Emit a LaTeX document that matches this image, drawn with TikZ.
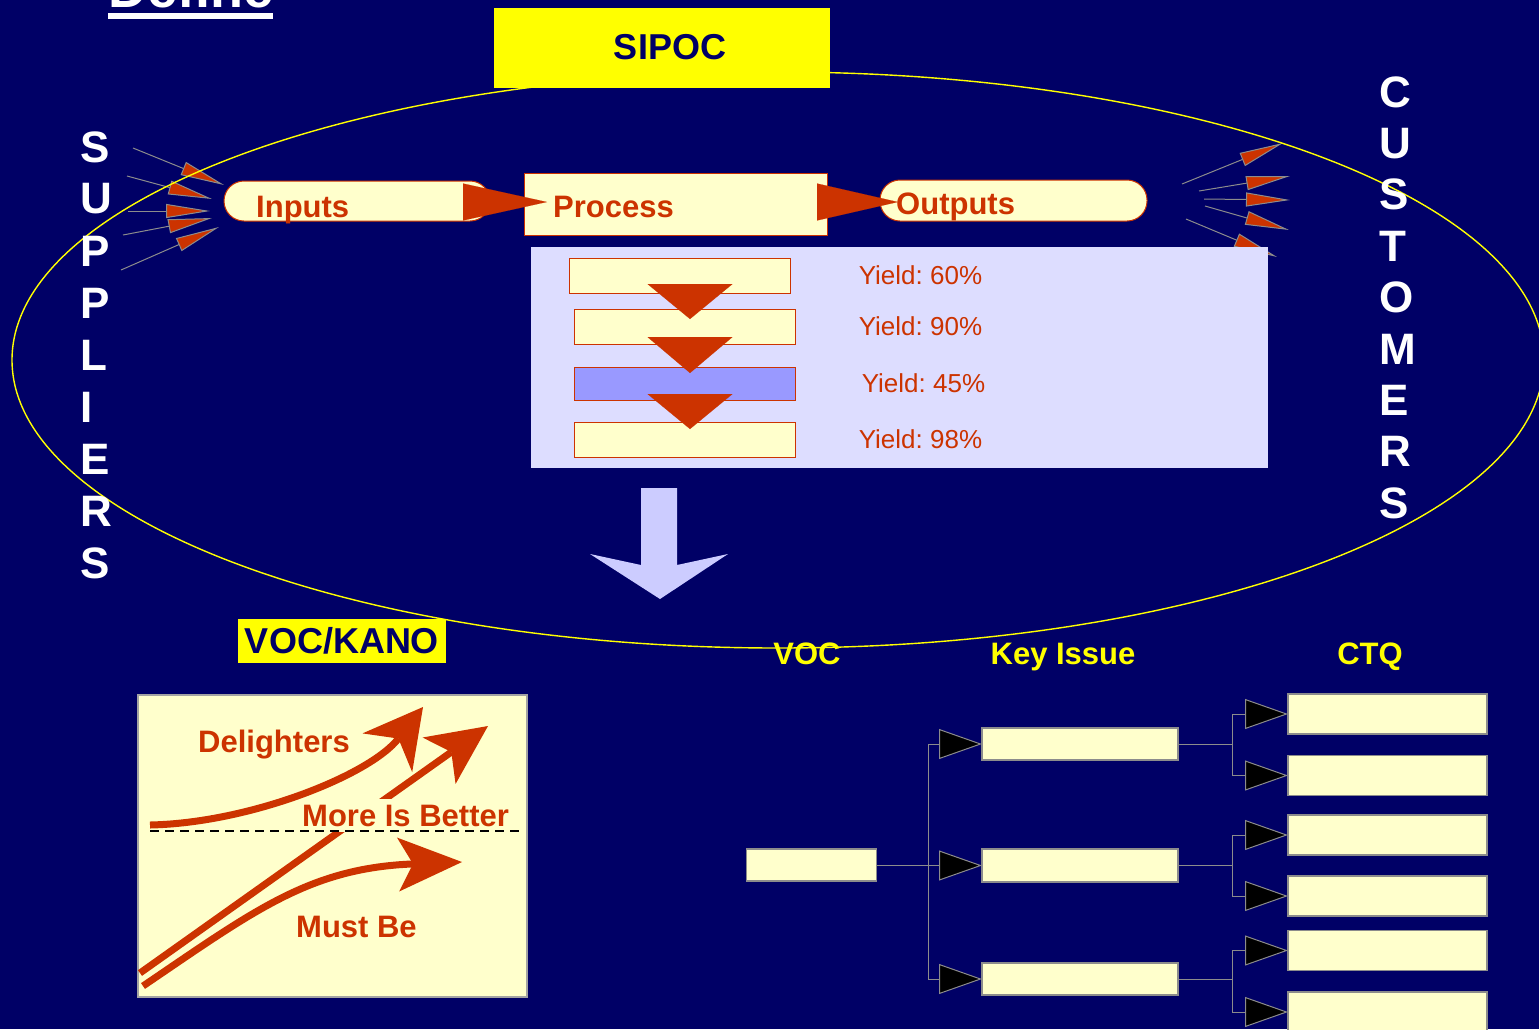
\documentclass[tikz,border=0pt]{standalone}
\usepackage{fontspec}
\setmainfont{Liberation Sans}
\usetikzlibrary{arrows.meta,calc}

\definecolor{navy}{HTML}{000066}
\definecolor{kred}{HTML}{CC3300}
\definecolor{cream}{HTML}{FFFFCC}
\definecolor{lav}{HTML}{DDDDFF}
\definecolor{midblue}{HTML}{9999FF}
\definecolor{paleblue}{HTML}{CCCCFF}
\definecolor{linegray}{HTML}{8C8C8C}
\definecolor{sipocyellow}{HTML}{FFFF00}

\begin{document}
\frenchspacing
\begin{tikzpicture}[x=1pt,y=-1pt,
  lbl/.style={inner sep=0pt, text=kred, font=\bfseries\fontsize{31}{31}\selectfont},
  letter/.style={anchor=west, inner sep=0pt, text=white, font=\bfseries\fontsize{44}{44}\selectfont},
  head/.style={inner sep=0pt, text=sipocyellow, font=\bfseries\fontsize{31}{31}\selectfont, anchor=base},
  yieldlbl/.style={inner sep=0pt, text=kred, font=\fontsize{26}{26}\selectfont},
  pill/.style={draw=kred, fill=cream, line width=1pt, rounded corners=20pt, inner sep=0pt, outer sep=0pt},
  procbox/.style={draw=kred, fill=cream, line width=1pt, inner sep=0pt, outer sep=0pt},
  stepbox/.style={draw=kred, fill=cream, line width=1pt, inner sep=0pt, outer sep=0pt, minimum width=221pt},
  bigtri/.style={kred, line width=0.1pt},
  feeder/.style={linegray, line width=1pt, -{Triangle[length=44pt,width=14pt,fill=kred]}},
  treebox/.style={draw=linegray, fill=cream, line width=1.2pt, inner sep=0pt, outer sep=0pt},
  treelink/.style={linegray, line width=1pt, -{Triangle[length=43pt,width=30pt,fill=black]}},
  kanoline/.style={kred, line width=7pt},
]
% page and background
\fill[navy] (0,0) rectangle (1539,1029);
\useasboundingbox (0,0) rectangle (1539,1029);
\clip (0,0) rectangle (1539,1029);

% heading, mostly above the page edge
\node[anchor=base west, inner sep=0pt, text=white, font=\bfseries\fontsize{54}{54}\selectfont] (title) at (108,7) {Define};
\fill[white] ($(title.base west)+(0,6)$) rectangle ($(title.base east)+(0,11.5)$);

% supplier feeders
\coordinate (sa1) at (133,148); \coordinate (sb1) at (224,185);
\coordinate (sa2) at (127,176); \coordinate (sb2) at (212,199);
\coordinate (sa3) at (128,211); \coordinate (sb3) at (210,211);
\coordinate (sa4) at (123,235); \coordinate (sb4) at (212,218);
\coordinate (sa5) at (121,270); \coordinate (sb5) at (219,227);
\foreach \i in {1,...,5} \draw[feeder] (sa\i) -- (sb\i);

% customer feeders
\coordinate (ca1) at (1182,184); \coordinate (cb1) at (1283,143);
\coordinate (ca2) at (1199,191); \coordinate (cb2) at (1290,176);
\coordinate (ca3) at (1204,199); \coordinate (cb3) at (1290,200);
\coordinate (ca4) at (1205,206); \coordinate (cb4) at (1289,230);
\coordinate (ca5) at (1186,219); \coordinate (cb5) at (1277,257);
\foreach \i in {1,...,5} \draw[feeder] (ca\i) -- (cb\i);

% SIPOC boundary
\draw[sipocyellow, line width=1.4pt] (778,360) ellipse [x radius=766, y radius=288];

% SIPOC title box
\fill[sipocyellow] (494,8) rectangle (830,88);
\node[inner sep=0pt, text=navy, font=\bfseries\fontsize{36}{36}\selectfont] (sipoc) at (670,47) {SIPOC};

% side captions
\foreach \ch [count=\i] in {S,U,P,P,L,I,E,R,S}
  \node[letter] (sup\i) at (80,{147+52*(\i-1)}) {\ch};
\foreach \ch [count=\i] in {C,U,S,T,O,M,E,R,S}
  \node[letter] (cus\i) at (1379,{92+51.4*(\i-1)}) {\ch};

% inputs -> process -> outputs
\node[pill, minimum width=266pt, minimum height=40pt] (inputs) at (357,201) {};
\node[lbl, anchor=base west] (inputslbl) at (256,217) {Inputs};
\node[procbox, minimum width=303pt, minimum height=62pt] (process) at (675.5,204) {};
\node[lbl, anchor=base west] (processlbl) at (553,217) {Process};
\node[pill, minimum width=267pt, minimum height=41pt] (outputs) at (1013.5,200.5) {};
\node[lbl, anchor=base west] (outputslbl) at (896,214) {Outputs};
\draw[bigtri, -{Triangle[length=84pt,width=37pt]}] ($(process.west)+(-61,-2)$) -- ($(process.west)+(23,-2)$);
\draw[bigtri, -{Triangle[length=81pt,width=37pt]}] ($(process.east)+(-10,-2)$) -- ($(outputs.west)+(18,1.5)$);

% process steps panel
\fill[lav] (531,247) rectangle (1268,468);
\node[stepbox, minimum height=35pt] (st1) at (679.5,275.5) {};
\node[stepbox, minimum height=35pt] (st2) at (684.5,326.5) {};
\node[stepbox, minimum height=33pt, fill=midblue] (st3) at (684.5,383.5) {};
\node[stepbox, minimum height=35pt] (st4) at (684.5,439.5) {};
\draw[bigtri, -{Triangle[length=35pt,width=85pt]}] ($(st1.south)+(10.5,-9)$) -- ($(st2.north)+(5.5,10)$);
\draw[bigtri, -{Triangle[length=36pt,width=85pt]}] ($(st2.south)+(5.5,-7)$) -- ($(st3.north)+(5.5,6)$);
\draw[bigtri, -{Triangle[length=35pt,width=85pt]}] ($(st3.south)+(5.5,-6)$) -- ($(st4.north)+(5.5,7)$);
\node[yieldlbl] (y1) at (920.5,275) {Yield: 60\%};
\node[yieldlbl] (y2) at (920.5,326) {Yield: 90\%};
\node[yieldlbl] (y3) at (923.5,383) {Yield: 45\%};
\node[yieldlbl] (y4) at (920.5,439) {Yield: 98\%};

% down arrow
\fill[paleblue] (641,488) -- (677,488) -- (677,565) -- (728,554) -- (660,599) -- (590,554) -- (641,565) -- cycle;

% VOC / KANO
\node[fill=sipocyellow, text=navy, inner sep=0pt, minimum width=208pt, minimum height=44pt,
      font=\bfseries\fontsize{36}{36}\selectfont] (kanotitle) at (342,641) {VOC/KANO};
\node[draw=linegray!80!white, fill=cream, line width=1.5pt, minimum width=389pt, minimum height=302pt, inner sep=0pt] (kano) at (332.5,846) {};

\coordinate (d0) at (150,825); \coordinate (d1) at (423,707);
\draw[kanoline, -{Stealth[length=58pt,width=63pt,inset=18pt,line width=0pt]}]
  (d0) .. controls (250,823) and (370,775) .. (d1);
\coordinate (m0) at (140,973); \coordinate (m1) at (488,726);
\draw[kanoline, -{Stealth[length=60pt,width=57pt,inset=15pt,line width=0pt]}] (m0) -- (m1);
\coordinate (b0) at (143,986); \coordinate (b1) at (462,862);
\draw[kanoline, -{Stealth[length=64pt,width=54pt,inset=15pt,line width=0pt]}]
  (b0) .. controls (255,910) and (310,868) .. (b1);

\node[lbl, anchor=base west] (delight) at (198,752) {Delighters};
\node[lbl, anchor=base west, fill=cream, inner xsep=1pt, inner ysep=6pt, text depth=0pt] (more) at (301,826) {More Is Better};
\node[lbl, anchor=base west] (must) at (296,937) {Must Be};
\draw[black, line width=1.5pt, dash pattern=on 9pt off 6pt] (150,831) -- (521,831);

% VOC -> Key Issue -> CTQ tree
\node[head] (vochead) at (807,664) {VOC};
\node[head] (keyhead) at (1063,664) {Key Issue};
\node[head] (ctqhead) at (1370,664) {CTQ};

\node[treebox, minimum width=130pt, minimum height=32pt] (voc) at (811.4,865) {};
\node[treebox, minimum width=196pt, minimum height=32pt] (key1) at (1080,744) {};
\node[treebox, minimum width=196pt, minimum height=33pt] (key2) at (1080,865.5) {};
\node[treebox, minimum width=196pt, minimum height=32pt] (key3) at (1080,979) {};
\foreach \y [count=\i] in {714,775.5,835,896,950.5,1012}
  \node[treebox, minimum width=199pt, minimum height=40pt] (ctq\i) at (1387.5,\y) {};

\coordinate (vs) at (928,865);
\foreach \i in {1,2,3} \draw[treelink] (voc.east) -- (vs) |- (key\i.west);
\coordinate (ks1) at (1232,744);
\coordinate (ks2) at (1232,865.5);
\coordinate (ks3) at (1232,979);
\draw[treelink] (key1.east) -- (ks1) |- (ctq1.west);
\draw[treelink] (key1.east) -- (ks1) |- (ctq2.west);
\draw[treelink] (key2.east) -- (ks2) |- (ctq3.west);
\draw[treelink] (key2.east) -- (ks2) |- (ctq4.west);
\draw[treelink] (key3.east) -- (ks3) |- (ctq5.west);
\draw[treelink] (key3.east) -- (ks3) |- (ctq6.west);
\end{tikzpicture}
\end{document}
